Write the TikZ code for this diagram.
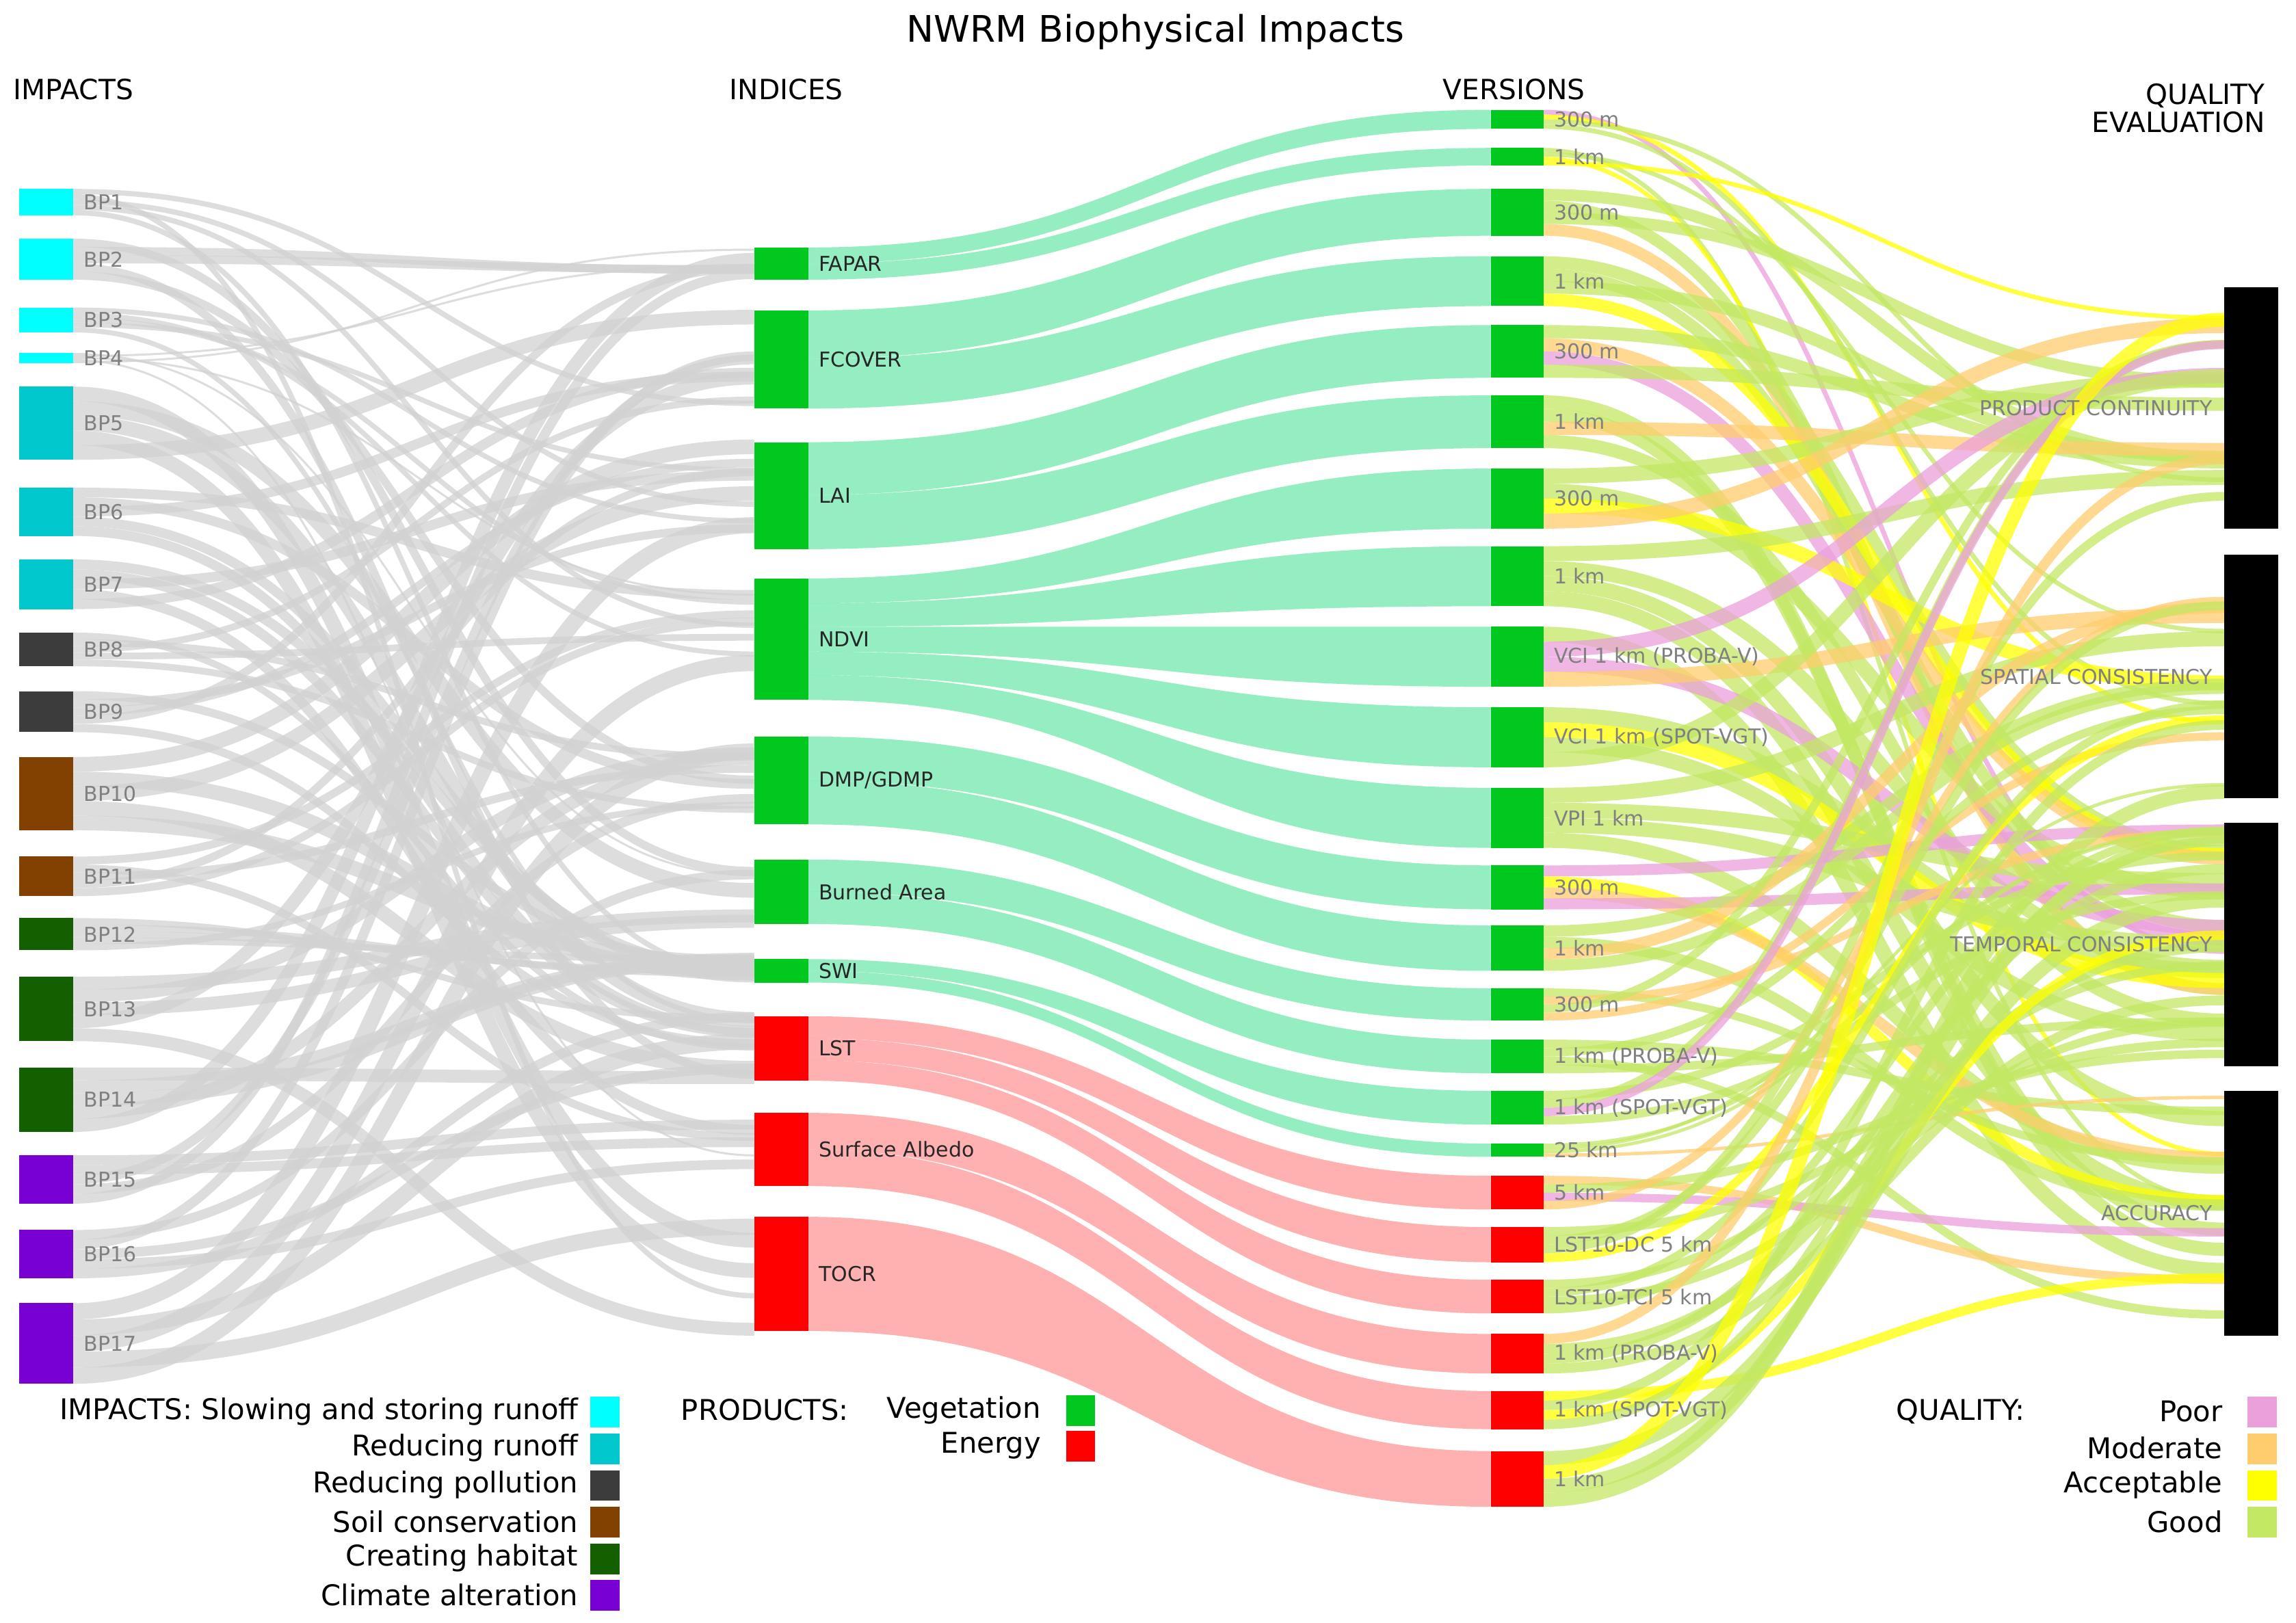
\documentclass[tikz,border=0pt]{standalone}
\usepackage{fontspec}
\setmainfont{DejaVu Sans}
\definecolor{cyA}{RGB}{0,255,255}
\definecolor{cyB}{RGB}{0,200,205}
\definecolor{dg}{RGB}{60,60,60}
\definecolor{br}{RGB}{130,65,0}
\definecolor{gr}{RGB}{20,95,0}
\definecolor{pu}{RGB}{120,0,210}
\definecolor{veg}{RGB}{0,200,30}
\definecolor{en}{RGB}{255,0,0}
\definecolor{mint}{RGB}{0,215,110}
\definecolor{rose}{RGB}{255,70,70}
\definecolor{qpoor}{RGB}{235,160,220}
\definecolor{qmod}{RGB}{255,205,110}
\definecolor{qacc}{RGB}{255,255,0}
\definecolor{qgood}{RGB}{195,232,100}
\newcommand\flow[7]{\fill[#7] (#1,#2) .. controls ({(#1+#4)/2},#2) and ({(#1+#4)/2},#5) .. (#4,#5) -- (#4,#6) .. controls ({(#1+#4)/2},#6) and ({(#1+#4)/2},#3) .. (#1,#3) -- cycle;}
\begin{document}
\begin{tikzpicture}[x=1pt,y=-1pt,
  lab/.style={anchor=west,text=gray,font=\fontsize{14}{14}\selectfont,inner sep=0pt},
  ilab/.style={anchor=west,text=black!85,font=\fontsize{14}{14}\selectfont,inner sep=0pt},
  head/.style={font=\fontsize{19}{19}\selectfont,inner sep=0pt},
  leg/.style={font=\fontsize{19.5}{19.5}\selectfont,inner sep=0pt,anchor=east},
  gl/.style={draw=gray!35,opacity=0.75},
  vb/.style={mint,opacity=0.42},
  rb/.style={rose,opacity=0.42}]
\useasboundingbox (0,0) rectangle (1568,1108);
\fill[white] (0,0) rectangle (1568,1108);
\pgfmathsetseed{11}
\def\idxA{{169,212,302,395,503,587,655,694,760,831}}
\def\idxB{{191,279,375,478,563,631,671,738,810,909}}
% gray impact->index links
\foreach \a/\b in {129/147,163/191,210/227,241/248,264/314,333/366,382/416,432/455,472/500,517/567,585/612,627/649,667/711,729/773,789/822,840/873,890/945}{
  \foreach \k in {0,1,2,3,4}{
    \pgfmathsetmacro\w{(\b-\a)/5}
    \pgfmathsetmacro\ys{\a+(\k+0.5)*\w}
    \pgfmathrandominteger{\j}{0}{9}
    \pgfmathsetmacro\ta{\idxA[\j]}
    \pgfmathsetmacro\tb{\idxB[\j]}
    \pgfmathsetmacro\yt{\ta+rnd*(\tb-\ta)}
    \draw[gl,line width=\w] (50,\ys) .. controls (285,\ys) and (285,\yt) .. (515,\yt);
  }}
% index->version
\flow{552}{169}{180}{1018}{75}{88}{vb}
\flow{552}{180}{191}{1018}{101}{113}{vb}
\flow{552}{212}{245}{1018}{129}{161}{vb}
\flow{552}{245}{279}{1018}{175}{209}{vb}
\flow{552}{302}{338}{1018}{222}{258}{vb}
\flow{552}{338}{375}{1018}{270}{306}{vb}
\flow{552}{395}{412}{1018}{320}{361}{vb}
\flow{552}{412}{428}{1018}{373}{414}{vb}
\flow{552}{428}{445}{1018}{428}{469}{vb}
\flow{552}{445}{461}{1018}{483}{524}{vb}
\flow{552}{461}{478}{1018}{538}{579}{vb}
\flow{552}{503}{533}{1018}{591}{621}{vb}
\flow{552}{533}{563}{1018}{632}{663}{vb}
\flow{552}{587}{609}{1018}{675}{697}{vb}
\flow{552}{609}{631}{1018}{710}{733}{vb}
\flow{552}{655}{663}{1018}{745}{768}{vb}
\flow{552}{663}{671}{1018}{781}{790}{vb}
\flow{552}{694}{709}{1018}{803}{826}{rb}
\flow{552}{709}{724}{1018}{838}{862}{rb}
\flow{552}{724}{738}{1018}{874}{897}{rb}
\flow{552}{760}{785}{1018}{911}{938}{rb}
\flow{552}{785}{810}{1018}{950}{976}{rb}
\flow{552}{831}{909}{1018}{991}{1029}{rb}
% version->quality
\def\qA{{196,379,562,745}}
\def\qB{{361,545,728,912}}
\def\qc{{"qpoor","qmod","qacc","qacc","qgood","qgood","qgood","qgood","qgood","qgood"}}
\foreach \a/\b in {75/88,101/113,129/161,175/209,222/258,270/306,320/361,373/414,428/469,483/524,538/579,591/621,632/663,675/697,710/733,745/768,781/790,803/826,838/862,874/897,911/938,950/976,991/1029}{
  \foreach \k in {0,1,2,3}{
    \pgfmathsetmacro\w{(\b-\a)/4}
    \pgfmathsetmacro\ys{\a+(\k+0.5)*\w}
    \pgfmathrandominteger{\j}{0}{3}
    \pgfmathrandominteger{\c}{0}{9}
    \pgfmathsetmacro\col{\qc[\c]}
    \pgfmathsetmacro\ta{\qA[\j]}
    \pgfmathsetmacro\tb{\qB[\j]}
    \pgfmathsetmacro\yt{\ta+4+rnd*(\tb-\ta-8)}
    \draw[draw=\col,opacity=0.75,line width=\w] (1054,\ys) .. controls (1286,\ys) and (1286,\yt) .. (1519,\yt);
  }}
% impact bars
\foreach \n/\a/\b/\c in {1/129/147/cyA,2/163/191/cyA,3/210/227/cyA,4/241/248/cyA,5/264/314/cyB,6/333/366/cyB,7/382/416/cyB,8/432/455/dg,9/472/500/dg,10/517/567/br,11/585/612/br,12/627/649/gr,13/667/711/gr,14/729/773/gr,15/789/822/pu,16/840/873/pu,17/890/945/pu}{
  \fill[\c] (13,\a) rectangle (50,\b);
  \node[lab] (bp\n) at (57,{(\a+\b)/2}) {BP\n};}
% index bars
\foreach \n/\a/\b/\c/\t in {fa/169/191/veg/FAPAR,fc/212/279/veg/FCOVER,la/302/375/veg/LAI,nd/395/478/veg/NDVI,dm/503/563/veg/DMP\slash GDMP,ba/587/631/veg/Burned Area,sw/655/671/veg/SWI,ls/694/738/en/LST,sa/760/810/en/Surface Albedo,to/831/909/en/TOCR}{
  \fill[\c] (515,\a) rectangle (552,\b);
  \node[ilab] (i\n) at (559,{(\a+\b)/2}) {\t};}
% version bars
\foreach \n/\a/\b/\c/\t in {1/75/88/veg/300 m,2/101/113/veg/1 km,3/129/161/veg/300 m,4/175/209/veg/1 km,5/222/258/veg/300 m,6/270/306/veg/1 km,7/320/361/veg/300 m,8/373/414/veg/1 km,9/428/469/veg/VCI 1 km (PROBA-V),10/483/524/veg/VCI 1 km (SPOT-VGT),11/538/579/veg/VPI 1 km,12/591/621/veg/300 m,13/632/663/veg/1 km,14/675/697/veg/300 m,15/710/733/veg/1 km (PROBA-V),16/745/768/veg/1 km (SPOT-VGT),17/781/790/veg/25 km,18/803/826/en/5 km,19/838/862/en/LST10-DC 5 km,20/874/897/en/LST10-TCI 5 km,21/911/938/en/1 km (PROBA-V),22/950/976/en/1 km (SPOT-VGT),23/991/1029/en/1 km}{
  \fill[\c] (1018,\a) rectangle (1054,\b);
  \node[lab] (v\n) at (1061,{(\a+\b)/2}) {\t};}
% quality bars
\foreach \n/\a/\b/\t in {pc/196/361/PRODUCT CONTINUITY,sc/379/545/SPATIAL CONSISTENCY,tc/562/728/TEMPORAL CONSISTENCY,ac/745/912/ACCURACY}{
  \fill[black] (1519,\a) rectangle (1556,\b);
  \node[lab,anchor=east] (q\n) at (1511,{(\a+\b)/2}) {\t};}
% titles
\node[font=\fontsize{25}{25}\selectfont] (title) at (789,22) {NWRM Biophysical Impacts};
\node[head,anchor=west] (h1) at (9,61) {IMPACTS};
\node[head] (h2) at (537,61) {INDICES};
\node[head] (h3) at (1034,61) {VERSIONS};
\node[head,anchor=east,align=right] (h4) at (1547,74) {QUALITY\\EVALUATION};
% legends
\foreach \y/\t/\c in {964/{IMPACTS: Slowing and storing runoff}/cyA,989/Reducing runoff/cyB,1014/Reducing pollution/dg,1039/Soil conservation/br,1064/Creating habitat/gr,1089/Climate alteration/pu}{
  \node[leg] at (395,\y) {\t};
  \fill[\c] (403,{\y-10}) rectangle (423,{\y+11});}
\node[leg,anchor=west] (pl) at (465,963) {PRODUCTS:};
\node[leg] at (711,963) {Vegetation};
\node[leg] at (711,987) {Energy};
\fill[veg] (728,953) rectangle (748,974);
\fill[en] (728,977) rectangle (748,998);
\node[leg,anchor=west] (ql) at (1295,964) {QUALITY:};
\foreach \y/\t/\c in {964/Poor/qpoor,989/Moderate/qmod,1014/Acceptable/qacc,1039/Good/qgood}{
  \node[leg] at (1518,\y) {\t};
  \fill[\c] (1535,{\y-10}) rectangle (1555,{\y+11});}
\end{tikzpicture}
\end{document}
